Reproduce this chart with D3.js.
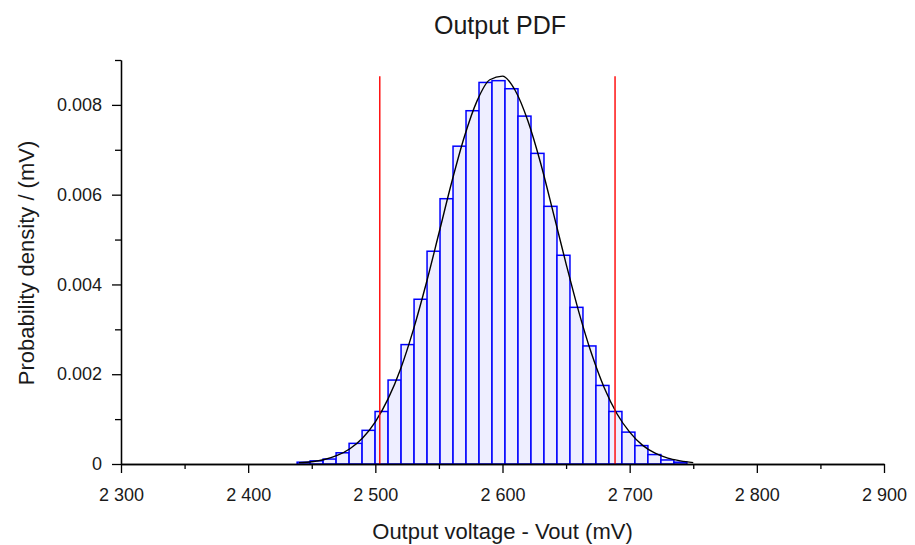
<!DOCTYPE html>
<html>
<head>
<meta charset="utf-8">
<script src="https://cdn.jsdelivr.net/npm/d3@7"></script>
<style>
  body { margin: 0; background: #fff; }
  svg { display: block; font-family: "Liberation Sans", Arial, sans-serif; }
  .axis path, .axis line { stroke: #000; stroke-width: 1.3; }
  .axis text { fill: #1a1a1a; font-size: 18px; }
  .bar { fill: #eeeeff; stroke: #0000ff; stroke-width: 1.5; }
  .fit { fill: none; stroke: #000; stroke-width: 1.4; }
  .limit { stroke: #ff0000; stroke-width: 1.4; }
  .chart-title { font-size: 25px; fill: #1a1a1a; }
  .axis-label { font-size: 22px; fill: #1a1a1a; }
</style>
</head>
<body>
<div id="chart"></div>
<script>
// Output voltage histogram with fitted normal PDF and limit lines.

const width = 915;
const height = 545;
const margin = { top: 60, right: 31, bottom: 81, left: 121 };

const xTicks = [2300, 2400, 2500, 2600, 2700, 2800, 2900];
const xMinorTicks = [2350, 2450, 2550, 2650, 2750, 2850];
const yTicks = [0, 0.002, 0.004, 0.006, 0.008];
const yMinorTicks = [0.001, 0.003, 0.005, 0.007, 0.009];

// histogram: 30 equal bins between binStart and binEnd (mV)
const binStart = 2438.5;
const binEnd = 2745;
const binDensity = [
  0.00004, 0.00007, 0.00011, 0.00025, 0.00046, 0.00075, 0.00117, 0.00187, 0.00266, 0.00367,
  0.00474, 0.00591, 0.00708, 0.00787, 0.00850, 0.00854, 0.00836, 0.00775, 0.00692, 0.00574,
  0.00465, 0.00349, 0.00263, 0.00175, 0.00117, 0.00071, 0.00041, 0.00021, 0.00009, 0.00004
];

// fitted density curve
const fitVoltage = [
  2440, 2450, 2460, 2470, 2480, 2490, 2500, 2510, 2520, 2530, 2540, 2550, 2560, 2570, 2580, 2590,
  2600, 2610, 2620, 2630, 2640, 2650, 2660, 2670, 2680, 2690, 2700, 2710, 2720, 2730, 2740, 2750
];
const fitDensity = [
  0.00003, 0.00005, 0.00010, 0.00019, 0.00034, 0.00058, 0.00094, 0.00145, 0.00213, 0.00300, 0.00402, 0.00514, 0.00627, 0.00729, 0.00809, 0.00856,
  0.00864, 0.00832, 0.00764, 0.00670, 0.00559, 0.00446, 0.00339, 0.00246, 0.00170, 0.00112, 0.00071, 0.00042, 0.00024, 0.00013, 0.00007, 0.00003
];

// red limit lines (mV) and their height
const limitVoltage = [2503.5, 2688.5];
const limitTop = 0.00864;

const chartWidth = width - margin.left - margin.right;
const chartHeight = height - margin.top - margin.bottom;

const svg = d3.select("#chart")
  .append("svg")
  .attr("width", width)
  .attr("height", height);

const chart = svg.append("g")
  .attr("transform", `translate(${margin.left}, ${margin.top})`);

const xScale = d3.scaleLinear()
  .domain([2300, 2900])
  .range([0, chartWidth]);

const yScale = d3.scaleLinear()
  .domain([0, 0.009])
  .range([chartHeight, 0]);

const spaced = d3.formatLocale({ decimal: ".", thousands: " ", grouping: [3], currency: ["", ""] }).format(",");

// bars
const binWidth = (binEnd - binStart) / binDensity.length;
const bins = binDensity.map((v, i) => ({ x0: binStart + i * binWidth, x1: binStart + (i + 1) * binWidth, value: v }));

chart.selectAll(".bar")
  .data(bins)
  .join("rect")
  .attr("class", "bar")
  .attr("x", d => xScale(d.x0))
  .attr("y", d => yScale(d.value))
  .attr("width", d => xScale(d.x1) - xScale(d.x0))
  .attr("height", d => yScale(0) - yScale(d.value));

// fitted curve
const fit = fitVoltage.map((v, i) => ({ v: v, p: fitDensity[i] }));
chart.append("path")
  .datum(fit)
  .attr("class", "fit")
  .attr("d", d3.line().x(d => xScale(d.v)).y(d => yScale(d.p)).curve(d3.curveMonotoneX));

// limits
chart.selectAll(".limit")
  .data(limitVoltage)
  .join("line")
  .attr("class", "limit")
  .attr("x1", d => xScale(d))
  .attr("x2", d => xScale(d))
  .attr("y1", yScale(0))
  .attr("y2", yScale(limitTop));

// axes
chart.append("g")
  .attr("class", "axis")
  .attr("transform", `translate(0, ${chartHeight})`)
  .call(d3.axisBottom(xScale).tickValues(xMinorTicks).tickSize(5).tickFormat("").tickSizeOuter(0));

chart.append("g")
  .attr("class", "axis")
  .attr("transform", `translate(0, ${chartHeight})`)
  .call(d3.axisBottom(xScale).tickValues(xTicks).tickSize(9).tickPadding(15).tickFormat(spaced).tickSizeOuter(0));

chart.append("g")
  .attr("class", "axis")
  .call(d3.axisLeft(yScale).tickValues(yMinorTicks).tickSize(6).tickFormat("").tickSizeOuter(0));

chart.append("g")
  .attr("class", "axis")
  .call(d3.axisLeft(yScale).tickValues(yTicks).tickSize(9).tickPadding(10).tickFormat(d => d === 0 ? "0" : d3.format(".3f")(d)).tickSizeOuter(0));

// titles
svg.append("text")
  .attr("class", "chart-title")
  .attr("x", 500)
  .attr("y", 34)
  .attr("text-anchor", "middle")
  .text("Output PDF");

svg.append("text")
  .attr("class", "axis-label")
  .attr("x", margin.left + chartWidth / 2)
  .attr("y", 539)
  .attr("text-anchor", "middle")
  .text("Output voltage - Vout (mV)");

svg.append("text")
  .attr("class", "axis-label")
  .attr("transform", "rotate(-90)")
  .attr("x", -263)
  .attr("y", 34)
  .attr("text-anchor", "middle")
  .text("Probability density / (mV)");
</script>
</body>
</html>
